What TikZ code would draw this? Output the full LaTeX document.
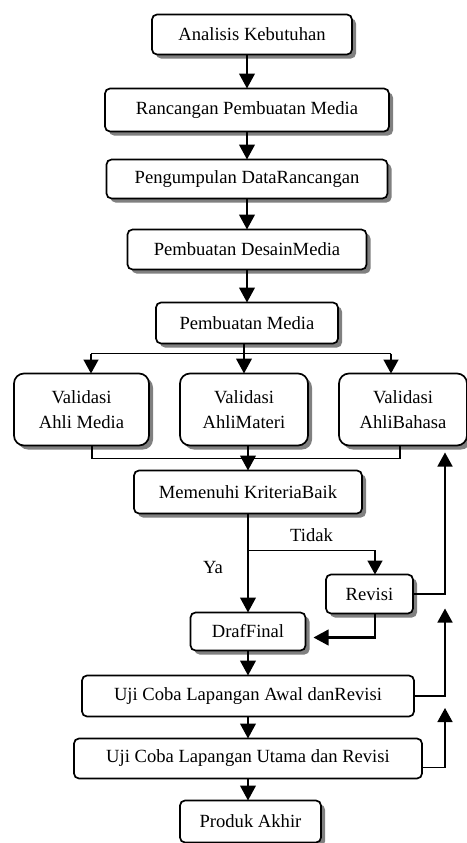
\documentclass[tikz,border=0pt]{standalone}
\usepackage{fontspec}
\setmainfont{Liberation Serif}
\usetikzlibrary{positioning, calc, arrows.meta, shadows}

\begin{document}
\begin{tikzpicture}[
        font=\fontsize{9.3}{12.5}\selectfont,
        node distance=15pt and 15.5pt,
        box/.style={rectangle, rounded corners=2.5pt, draw=black, line width=0.85pt, fill=white, minimum height=20pt, align=center, inner sep=2pt, outer sep=0pt},
        sbox/.style={box, drop shadow={shadow xshift=2pt, shadow yshift=-2pt, fill=black!50, opacity=1}},
        vbox/.style={sbox, rounded corners=5pt, minimum height=36pt},
        arrow/.style={-{Triangle[width=7.8pt, length=7.5pt]}, line width=1.15pt},
        thinarrow/.style={-{Triangle[width=7.5pt, length=7pt]}, line width=0.75pt},
        line/.style={line width=0.75pt},
        lbl/.style={inner sep=1pt}
    ]
        \useasboundingbox (0,0) rectangle (233.5pt,-421.5pt);

        % Main flow
        \node[sbox, minimum width=100pt] (Analisis) at (126pt,-17.25pt) {Analisis Kebutuhan};
        \node[sbox, minimum width=142pt, minimum height=21.5pt, below=17pt of Analisis, xshift=-2.5pt] (Rancangan) {Rancangan Pembuatan Media};
        \node[sbox, minimum width=140.5pt, minimum height=19.5pt, below=14pt of Rancangan] (Pengumpulan) {Pengumpulan DataRancangan};
        \node[sbox, minimum width=119.5pt, below=15.5pt of Pengumpulan] (Desain) {Pembuatan DesainMedia};
        \node[sbox, minimum width=91pt, minimum height=20.5pt, below=16.5pt of Desain] (Pembuatan) {Pembuatan Media};

        % Validation
        \node[vbox, minimum width=64pt, below=15pt of Pembuatan, xshift=-1.5pt] (ValMateri) {Validasi\\AhliMateri};
        \node[vbox, minimum width=67.5pt, left=15.5pt of ValMateri] (ValMedia) {Validasi\\Ahli Media};
        \node[vbox, minimum width=64pt, right=15.5pt of ValMateri] (ValBahasa) {Validasi\\AhliBahasa};

        % Decision
        \node[sbox, minimum width=114pt, minimum height=21.5pt, below=12.5pt of ValMateri, xshift=2pt] (Kriteria) {Memenuhi KriteriaBaik};
        \node[sbox, minimum width=43.5pt, minimum height=19.5pt, below right=30.5pt and -18pt of Kriteria] (Revisi) {Revisi};
        \node[sbox, minimum width=57.5pt, minimum height=19pt, below=49.5pt of Kriteria] (Draf) {DrafFinal};

        % Field tests
        \node[box, minimum width=166pt, minimum height=20.5pt, below=12.5pt of Draf] (UjiAwal) {Uji Coba Lapangan Awal danRevisi};
        \node[box, minimum width=174pt, below=11pt of UjiAwal] (UjiUtama) {Uji Coba Lapangan Utama dan Revisi};
        \node[sbox, minimum width=70.5pt, minimum height=21pt, below=11pt of UjiUtama, xshift=1.25pt] (Produk) {Produk Akhir};

        % Helper points
        \coordinate[below=5pt of Pembuatan] (split);
        \coordinate (inMedia) at ([xshift=4.75pt]ValMedia.north);
        \coordinate (inBahasa) at ([xshift=-6pt]ValBahasa.north);
        \coordinate[below=6.5pt of ValMateri] (join);
        \coordinate (outMedia) at ([xshift=5.25pt]ValMedia.south);
        \coordinate (outBahasa) at ([xshift=-1.5pt]ValBahasa.south);
        \coordinate[below=18.5pt of Kriteria] (fork);
        \coordinate (rail) at ([xshift=-11pt, yshift=-3.5pt]ValBahasa.south east);
        \coordinate (railA) at ($(rail |- Revisi.south)+(0,2.5pt)$);
        \coordinate (railB) at ($(rail |- UjiAwal.east)+(0,-6pt)$);

        % Arrows
        \draw[arrow] (Rancangan.north |- Analisis.south) -- (Rancangan.north);
        \draw[arrow] (Pengumpulan.north |- Rancangan.south) -- (Pengumpulan.north);
        \draw[arrow] (Desain.north |- Pengumpulan.south) -- (Desain.north);
        \draw[arrow] (Pembuatan.north |- Desain.south) -- (Pembuatan.north);

        \draw[arrow] (ValMateri.north |- Pembuatan.south) -- (ValMateri.north);
        \draw[line] (inMedia |- split) -- (inBahasa |- split);
        \draw[thinarrow] (inMedia |- split) -- (inMedia);
        \draw[thinarrow] (inBahasa |- split) -- (inBahasa);

        \draw[line] (outMedia) |- (join) -| (outBahasa);
        \draw[arrow] (Kriteria.north |- ValMateri.south) -- (Kriteria.north);

        \draw[arrow] (Kriteria.south) -- node[lbl, pos=0.55, left=11pt] (ya) {Ya} (Draf.north);
        \draw[thinarrow] (fork) -| node[lbl, pos=0.25, above=3pt] (tidak) {Tidak} ([xshift=2.75pt]Revisi.north);
        \draw[thinarrow] (Revisi.east) -| (rail);
        \draw[arrow, shorten >=4pt] ([xshift=2.75pt]Revisi.south) |- ([yshift=-3pt]Draf.east);

        \draw[arrow] (UjiAwal.north |- Draf.south) -- (UjiAwal.north);
        \draw[arrow] (UjiUtama.north |- UjiAwal.south) -- (UjiUtama.north);
        \draw[arrow] (UjiUtama.south) -- (UjiUtama.south |- Produk.north);

        \draw[thinarrow] (UjiAwal.east) -| (railA);
        \draw[thinarrow] ([yshift=-4.5pt]UjiUtama.east) -| (railB);
    \end{tikzpicture}
\end{document}
